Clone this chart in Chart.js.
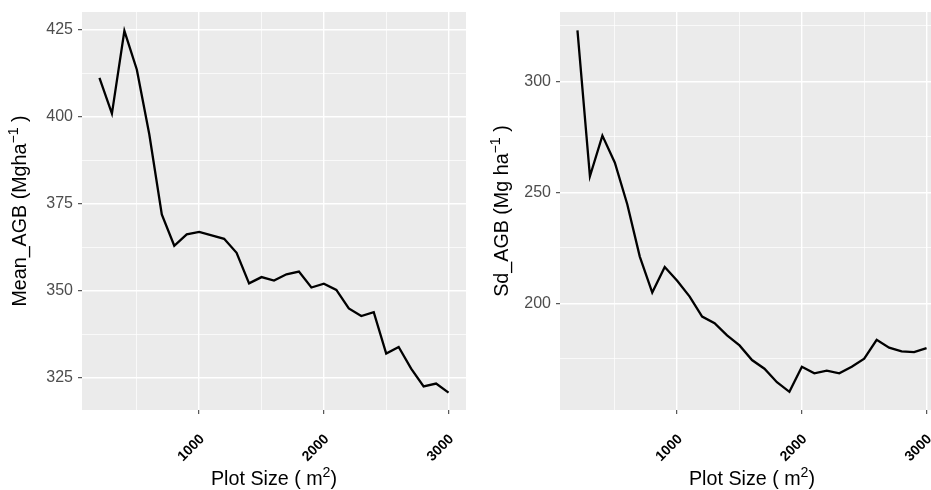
<!DOCTYPE html>
<html>
<head>
<meta charset="utf-8">
<script src="https://cdn.jsdelivr.net/npm/chart.js@4.4.1/dist/chart.umd.min.js"></script>
<style>
  html, body { margin: 0; padding: 0; background: #fff; overflow: hidden; }
  #wrap { position: relative; width: 931px; height: 490px; overflow: hidden; }
  #left { position: absolute; left: 0; top: 0; }
  #right { position: absolute; left: 470px; top: 0; }
</style>
</head>
<body>
<div id="wrap">
  <canvas id="left" width="470" height="490"></canvas>
  <canvas id="right" width="475" height="490"></canvas>
</div>
<script>
// plot size (m2)
const plotSize = [200, 300, 400, 500, 600, 700, 800, 900, 1000, 1100, 1200, 1300, 1400, 1500, 1600,
  1700, 1800, 1900, 2000, 2100, 2200, 2300, 2400, 2500, 2600, 2700, 2800, 2900, 3000];
const meanAGB = [411.3, 401, 424.8, 413.6, 395, 372, 363, 366.3, 367, 366, 365, 361, 352.2, 354, 353,
  354.8, 355.6, 351, 352.1, 350.3, 345, 342.8, 343.9, 332, 333.9, 327.7, 322.6, 323.4, 320.8];
const sdAGB = [322.9, 257.2, 275.5, 263.3, 244.5, 221, 204.8, 216.3, 210.1, 203, 194, 191, 185.5, 181, 174.4,
  170.5, 164.4, 160.1, 171.4, 168.4, 169.6, 168.4, 171.4, 175, 183.5, 180, 178.3, 178, 179.8];

const xTicks = [1000, 2000, 3000];
const xMinor = [500, 1500, 2500];
const meanTicks = [325, 350, 375, 400, 425];
const meanMinor = [337.5, 362.5, 387.5, 412.5];
const sdTicks = [200, 250, 300];
const sdMinor = [175, 225, 275, 325];

const FONT = '"Liberation Sans", Arial, Helvetica, sans-serif';
const PANEL = '#EBEBEB';

// grey panel behind the grid
const panelBg = {
  id: 'panelBg',
  beforeDraw(chart) {
    const a = chart.chartArea, ctx = chart.ctx;
    ctx.save();
    ctx.fillStyle = PANEL;
    ctx.fillRect(a.left, a.top, a.right - a.left, a.bottom - a.top);
    ctx.restore();
  }
};

// draw a title made of pieces, some of them superscript
function drawPieces(ctx, pieces, size) {
  let total = 0;
  pieces.forEach(p => {
    ctx.font = (p.sup ? size * 0.72 : size) + 'px ' + FONT;
    p.w = ctx.measureText(p.t).width;
    total += p.w;
  });
  let x = -total / 2;
  pieces.forEach(p => {
    ctx.font = (p.sup ? size * 0.72 : size) + 'px ' + FONT;
    ctx.fillText(p.t, x, p.sup ? -size * 0.42 : 0);
    x += p.w;
  });
}

const axisTitles = {
  id: 'axisTitles',
  afterDraw(chart, args, opts) {
    const a = chart.chartArea, ctx = chart.ctx;
    ctx.save();
    ctx.fillStyle = '#000';
    ctx.textBaseline = 'alphabetic';
    ctx.textAlign = 'left';
    // x title
    ctx.save();
    ctx.translate((a.left + a.right) / 2, opts.xBase);
    drawPieces(ctx, opts.x, opts.size);
    ctx.restore();
    // y title
    ctx.save();
    ctx.translate(opts.yBase, (a.top + a.bottom) / 2);
    ctx.rotate(-Math.PI / 2);
    drawPieces(ctx, opts.y, opts.size);
    ctx.restore();
    ctx.restore();
  }
};

function tickList(major, minor) {
  return major.concat(minor).sort((a, b) => a - b).map(v => ({ value: v }));
}

// keep the panel where ggplot put it: no extra room for labels
function noPad(s) {
  s.paddingLeft = 0; s.paddingRight = 0;
  s.paddingTop = 0; s.paddingBottom = 0;
}

function makeChart(id, values, yMin, yMax, yMajor, yMinor, yWidth, pad, titles) {
  return new Chart(document.getElementById(id), {
    type: 'line',
    data: {
      datasets: [{
        data: plotSize.map((s, i) => ({ x: s, y: values[i] })),
        borderColor: '#000',
        borderWidth: 2.3,
        pointRadius: 0,
        tension: 0,
        fill: false
      }]
    },
    options: {
      responsive: false,
      animation: false,
      layout: { padding: pad },
      plugins: {
        legend: { display: false },
        tooltip: { enabled: false },
        axisTitles: titles
      },
      scales: {
        x: {
          type: 'linear',
          min: 60, max: 3140,
          afterBuildTicks: s => { s.ticks = tickList(xTicks, xMinor); },
          afterFit: s => { s.height = 80; noPad(s); },
          border: { display: false },
          grid: {
            color: '#fff',
            lineWidth: c => xTicks.includes(c.tick.value) ? 1.4 : 0.7,
            tickColor: c => xTicks.includes(c.tick.value) ? '#333' : 'rgba(0,0,0,0)',
            tickLength: 4,
            tickWidth: 1
          },
          ticks: {
            autoSkip: false,
            minRotation: 45, maxRotation: 45,
            padding: 17,
            labelOffset: 3,
            color: '#000',
            font: { family: FONT, size: 14, weight: 'bold' },
            callback: v => xTicks.includes(v) ? String(v) : ''
          }
        },
        y: {
          min: yMin, max: yMax,
          afterBuildTicks: s => { s.ticks = tickList(yMajor, yMinor); },
          afterFit: s => { s.width = yWidth; noPad(s); },
          border: { display: false },
          grid: {
            color: '#fff',
            lineWidth: c => yMajor.includes(c.tick.value) ? 1.4 : 0.7,
            tickColor: c => yMajor.includes(c.tick.value) ? '#333' : 'rgba(0,0,0,0)',
            tickLength: 4,
            tickWidth: 1
          },
          ticks: {
            autoSkip: false,
            padding: 5,
            color: '#4D4D4D',
            font: { family: FONT, size: 16 },
            callback: v => yMajor.includes(v) ? String(v) : ''
          }
        }
      }
    },
    plugins: [panelBg, axisTitles]
  });
}

const xTitle = [{ t: 'Plot Size ( m' }, { t: '2', sup: true }, { t: ')' }];

makeChart('left', meanAGB, 315.8, 430.2, meanTicks, meanMinor, 82,
  { top: 12, right: 4, left: 0, bottom: 0 },
  { size: 19.7, xBase: 485, yBase: 26, x: xTitle,
    y: [{ t: 'Mean_AGB (Mgha' }, { t: '\u22121', sup: true }, { t: ' )' }] });

makeChart('right', sdAGB, 151.9, 331.2, sdTicks, sdMinor, 90,
  { top: 12, right: 1, left: 0, bottom: 0 },
  { size: 19.7, xBase: 485, yBase: 38, x: xTitle,
    y: [{ t: 'Sd_AGB (Mg ha' }, { t: '\u22121', sup: true }, { t: ' )' }] });
</script>
</body>
</html>
